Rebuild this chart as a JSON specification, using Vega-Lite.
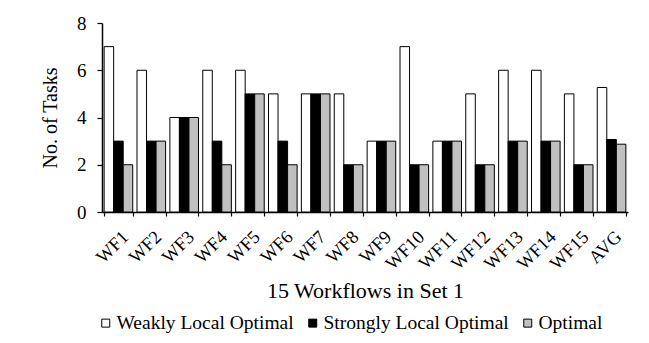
{
  "$schema": "https://vega.github.io/schema/vega-lite/v6.json",
  "width": 526,
  "height": 189,
  "padding": {"left": 40, "top": 14, "right": 10, "bottom": 5},
  "background": "white",
  "data": {
    "values": [
      {"wf": "WF1", "s": "Weakly Local Optimal", "v": 7}, {"wf": "WF1", "s": "Strongly Local Optimal", "v": 3}, {"wf": "WF1", "s": "Optimal", "v": 2},
      {"wf": "WF2", "s": "Weakly Local Optimal", "v": 6}, {"wf": "WF2", "s": "Strongly Local Optimal", "v": 3}, {"wf": "WF2", "s": "Optimal", "v": 3},
      {"wf": "WF3", "s": "Weakly Local Optimal", "v": 4}, {"wf": "WF3", "s": "Strongly Local Optimal", "v": 4}, {"wf": "WF3", "s": "Optimal", "v": 4},
      {"wf": "WF4", "s": "Weakly Local Optimal", "v": 6}, {"wf": "WF4", "s": "Strongly Local Optimal", "v": 3}, {"wf": "WF4", "s": "Optimal", "v": 2},
      {"wf": "WF5", "s": "Weakly Local Optimal", "v": 6}, {"wf": "WF5", "s": "Strongly Local Optimal", "v": 5}, {"wf": "WF5", "s": "Optimal", "v": 5},
      {"wf": "WF6", "s": "Weakly Local Optimal", "v": 5}, {"wf": "WF6", "s": "Strongly Local Optimal", "v": 3}, {"wf": "WF6", "s": "Optimal", "v": 2},
      {"wf": "WF7", "s": "Weakly Local Optimal", "v": 5}, {"wf": "WF7", "s": "Strongly Local Optimal", "v": 5}, {"wf": "WF7", "s": "Optimal", "v": 5},
      {"wf": "WF8", "s": "Weakly Local Optimal", "v": 5}, {"wf": "WF8", "s": "Strongly Local Optimal", "v": 2}, {"wf": "WF8", "s": "Optimal", "v": 2},
      {"wf": "WF9", "s": "Weakly Local Optimal", "v": 3}, {"wf": "WF9", "s": "Strongly Local Optimal", "v": 3}, {"wf": "WF9", "s": "Optimal", "v": 3},
      {"wf": "WF10", "s": "Weakly Local Optimal", "v": 7}, {"wf": "WF10", "s": "Strongly Local Optimal", "v": 2}, {"wf": "WF10", "s": "Optimal", "v": 2},
      {"wf": "WF11", "s": "Weakly Local Optimal", "v": 3}, {"wf": "WF11", "s": "Strongly Local Optimal", "v": 3}, {"wf": "WF11", "s": "Optimal", "v": 3},
      {"wf": "WF12", "s": "Weakly Local Optimal", "v": 5}, {"wf": "WF12", "s": "Strongly Local Optimal", "v": 2}, {"wf": "WF12", "s": "Optimal", "v": 2},
      {"wf": "WF13", "s": "Weakly Local Optimal", "v": 6}, {"wf": "WF13", "s": "Strongly Local Optimal", "v": 3}, {"wf": "WF13", "s": "Optimal", "v": 3},
      {"wf": "WF14", "s": "Weakly Local Optimal", "v": 6}, {"wf": "WF14", "s": "Strongly Local Optimal", "v": 3}, {"wf": "WF14", "s": "Optimal", "v": 3},
      {"wf": "WF15", "s": "Weakly Local Optimal", "v": 5}, {"wf": "WF15", "s": "Strongly Local Optimal", "v": 2}, {"wf": "WF15", "s": "Optimal", "v": 2},
      {"wf": "AVG", "s": "Weakly Local Optimal", "v": 5.27}, {"wf": "AVG", "s": "Strongly Local Optimal", "v": 3.07}, {"wf": "AVG", "s": "Optimal", "v": 2.87}
    ]
  },
  "mark": {"type": "bar", "stroke": "black", "strokeWidth": 1},
  "encoding": {
    "x": {
      "field": "wf", "type": "nominal", "sort": null,
      "scale": {"paddingInner": 0.13, "paddingOuter": 0.065},
      "axis": {
        "title": "15 Workflows in Set 1", "titleFontSize": 22, "titleFontWeight": "normal", "titlePadding": 8,
        "labelAngle": -45, "labelFontSize": 18.5, "tickBand": "extent", "tickSize": 4, "labelPadding": 11
      }
    },
    "xOffset": {"field": "s", "type": "nominal", "sort": ["Weakly Local Optimal", "Strongly Local Optimal", "Optimal"]},
    "y": {
      "field": "v", "type": "quantitative",
      "scale": {"domain": [0, 8]},
      "axis": {"title": "No. of Tasks", "titleFontSize": 20, "titleFontWeight": "normal", "values": [0, 2, 4, 6, 8], "grid": false, "labelFontSize": 19, "tickSize": 5, "labelPadding": 11, "titlePadding": 16}
    },
    "fill": {
      "field": "s", "type": "nominal",
      "sort": ["Weakly Local Optimal", "Strongly Local Optimal", "Optimal"],
      "scale": {"domain": ["Weakly Local Optimal", "Strongly Local Optimal", "Optimal"], "range": ["white", "black", "#c0c0c0"]},
      "legend": {
        "orient": "none", "legendX": -6, "legendY": 290, "direction": "horizontal", "title": null, "padding": 0,
        "symbolType": "square", "symbolSize": 64, "symbolStrokeColor": "black", "symbolStrokeWidth": 1,
        "labelFontSize": 19.5, "labelOffset": 1, "columnPadding": 9, "labelLimit": 300
      }
    }
  },
  "config": {
    "font": "Liberation Serif, Times New Roman, serif",
    "view": {"stroke": null},
    "axis": {"domainColor": "black", "tickColor": "black", "labelColor": "black", "titleColor": "black", "domainWidth": 1.5, "tickWidth": 1.2, "labelFont": "Liberation Serif, Times New Roman, serif", "titleFont": "Liberation Serif, Times New Roman, serif"},
    "legend": {"labelColor": "black", "labelFont": "Liberation Serif, Times New Roman, serif"}
  }
}
